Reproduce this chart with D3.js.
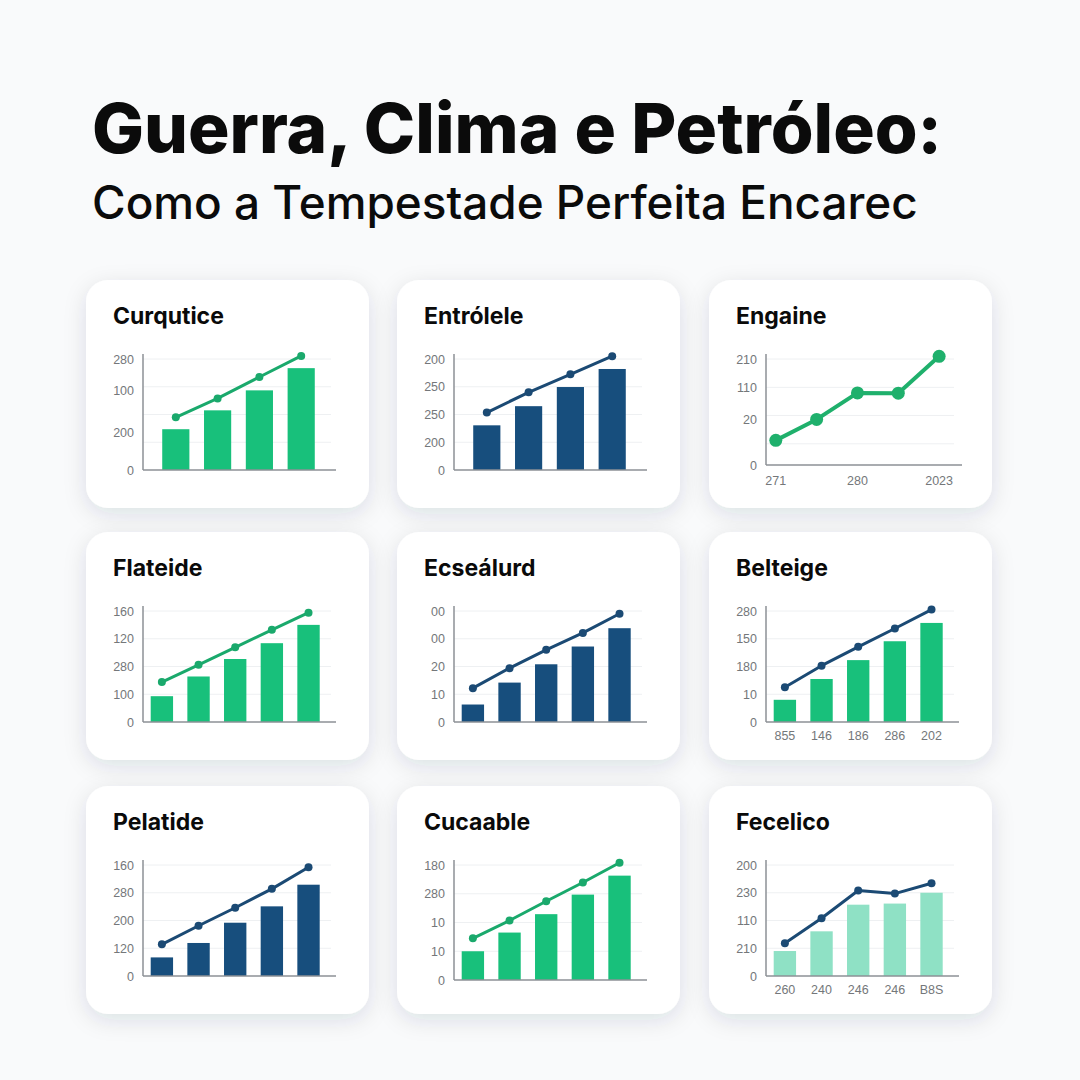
<!DOCTYPE html>
<html>
<head>
<meta charset="utf-8">
<script src="https://cdn.jsdelivr.net/npm/d3@7"></script>
<style>
  html, body { margin: 0; padding: 0; background: #f9fafb; }
  svg { display: block; }
</style>
</head>
<body>
<svg id="chart" width="1080" height="1080"></svg>
<script>
// ---------------- DATA ----------------
const mainTitle = "Guerra, Clima e Petróleo:";
const subTitle = "Como a Tempestade Perfeita Encarec";

const panelTitles = ["Curqutice", "Entrólele", "Engaine", "Flateide", "Ecseálurd", "Belteige", "Pelatide", "Cucaable", "Fecelico"];

const barValues = [
  [1.47, 2.15, 2.87, 3.67],
  [1.61, 2.30, 2.99, 3.64],
  [],
  [0.93, 1.64, 2.27, 2.84, 3.50],
  [0.63, 1.42, 2.08, 2.72, 3.38],
  [0.80, 1.55, 2.23, 2.91, 3.57],
  [0.67, 1.19, 1.92, 2.51, 3.29],
  [1.00, 1.65, 2.29, 2.97, 3.63],
  [0.90, 1.61, 2.57, 2.61, 3.00]
];

const lineValues = [
  [1.90, 2.58, 3.35, 4.11],
  [2.07, 2.80, 3.45, 4.10],
  [0.93, 1.72, 2.72, 2.71, 4.10],
  [1.44, 2.06, 2.69, 3.32, 3.94],
  [1.22, 1.94, 2.60, 3.21, 3.90],
  [1.25, 2.03, 2.71, 3.37, 4.05],
  [1.14, 1.81, 2.46, 3.14, 3.92],
  [1.45, 2.07, 2.74, 3.39, 4.08],
  [1.18, 2.08, 3.08, 2.97, 3.34]
];

const yTickLabels = [
  ["280", "100", "200", "0"],
  ["200", "250", "250", "200", "0"],
  ["210", "110", "20", "0"],
  ["160", "120", "280", "100", "0"],
  ["00", "00", "20", "10", "0"],
  ["280", "150", "180", "10", "0"],
  ["160", "280", "200", "120", "0"],
  ["180", "280", "10", "10", "0"],
  ["200", "230", "110", "210", "0"]
];
const yTickValues = [
  [4, 2.85, 1.35, 0],
  [4, 3, 2, 1, 0],
  [4, 2.91, 1.72, 0],
  [4, 3, 2, 1, 0],
  [4, 3, 2, 1, 0],
  [4, 3, 2, 1, 0],
  [4, 3, 2, 1, 0],
  [4, 3, 2, 1, 0],
  [4, 3, 2, 1, 0]
];
const gridValues = [
  [1, 2, 3, 4], [1, 2, 3, 4], [0.8, 1.87, 2.93, 4],
  [1, 2, 3, 4], [1, 2, 3, 4], [1, 2, 3, 4],
  [1, 2, 3, 4], [1, 2, 3, 4], [1, 2, 3, 4]
];
const xTickLabels = [
  null, null, ["271", "", "280", "", "2023"],
  null, null, ["855", "146", "186", "286", "202"],
  null, null, ["260", "240", "246", "246", "B8S"]
];

// ---------------- STYLES ----------------
const C = {
  green: "#18c07b", greenLine: "#1aa96c", navy: "#174e7d", navyLine: "#1b4a74",
  teal: "#8fe1c5"
};
const barColors  = [C.green, C.navy, null, C.green, C.navy, C.green, C.navy, C.green, C.teal];
const lineColors = [C.greenLine, C.navyLine, "#1fb06c", C.greenLine, C.navyLine, C.navyLine, C.navyLine, C.greenLine, C.navyLine];

// ---------------- LAYOUT ----------------
const svg = d3.select("#chart");
const cardX = [86, 397, 709], cardY = [280, 532, 786];
const cardW = 283, cardH = 228;

const defs = svg.append("defs");
const f = defs.append("filter").attr("id", "shadow").attr("x", "-25%").attr("y", "-25%").attr("width", "150%").attr("height", "160%");
f.append("feDropShadow").attr("dx", 0).attr("dy", 6).attr("stdDeviation", 11)
  .attr("flood-color", "#1e3246").attr("flood-opacity", 0.12);

svg.append("rect").attr("width", 1080).attr("height", 1080).attr("fill", "#f9fafb");

function fitText(sel, targetW) {
  const w = sel.node().getComputedTextLength();
  const fs = parseFloat(sel.attr("font-size"));
  sel.attr("font-size", fs * targetW / w);
}

const t1 = svg.append("text").attr("x", 92).attr("y", 153)
  .attr("font-family", "Inter, 'Open Sans', sans-serif").attr("font-weight", 800)
  .attr("font-size", 68).attr("fill", "#0b0b0b").text(mainTitle);
fitText(t1, 850);
const t2 = svg.append("text").attr("x", 92).attr("y", 219)
  .attr("font-family", "Inter, 'Open Sans', sans-serif").attr("font-weight", 500)
  .attr("font-size", 46).attr("fill", "#0b0b0b").text(subTitle);
fitText(t2, 826);

panelTitles.forEach((title, i) => {
  const cx = cardX[i % 3], cy = cardY[Math.floor(i / 3)];
  const g = svg.append("g").attr("transform", `translate(${cx},${cy})`);
  g.append("rect").attr("width", cardW).attr("height", cardH).attr("rx", 22)
    .attr("fill", "#ffffff").attr("filter", "url(#shadow)");

  g.append("text").attr("x", 27).attr("y", 44)
    .attr("font-family", "Inter, sans-serif").attr("font-weight", 700)
    .attr("font-size", 23).attr("fill", "#0a0a0a").text(title);

  const isLineOnly = barValues[i].length === 0;
  const left = 57, right = 250, top = 79;
  const bottom = isLineOnly ? 185 : (i === 7 ? 194 : 190);

  const y = d3.scaleLinear().domain([0, 4]).range([bottom, top]);
  const n = lineValues[i].length;
  const idx = d3.range(n);

  // grid
  g.append("g").selectAll("line").data(gridValues[i]).join("line")
    .attr("x1", left).attr("x2", right - 5)
    .attr("y1", d => y(d)).attr("y2", d => y(d))
    .attr("stroke", "#eef0f2").attr("stroke-width", 1);

  // y axis labels
  const yAxis = d3.axisLeft(y).tickValues(yTickValues[i])
    .tickFormat((d, k) => yTickLabels[i][k]).tickSize(0).tickPadding(9);
  const ya = g.append("g").attr("transform", `translate(${left},0)`).call(yAxis);
  ya.select(".domain").remove();
  ya.selectAll("text").attr("font-family", "'Liberation Sans', Arial, sans-serif")
    .attr("font-size", 12.5).attr("fill", "#74777a");

  let xPos;
  if (isLineOnly) {
    const xs = d3.scalePoint().domain(idx).range([left, right + 3]).padding(0.4).align(0.3);
    xPos = d => xs(d);
  } else {
    const xb = n === 4
      ? d3.scaleBand().domain(idx).range([left, right - 2]).paddingInner(0.35).paddingOuter(0.46)
      : d3.scaleBand().domain(idx).range([left, right - 2]).paddingInner(0.39).paddingOuter(0.3).align(0.35);
    xPos = d => xb(d) + xb.bandwidth() / 2;
    g.append("g").selectAll("rect").data(barValues[i]).join("rect")
      .attr("x", (d, k) => xb(k)).attr("width", xb.bandwidth())
      .attr("y", d => y(d)).attr("height", d => y(0) - y(d))
      .attr("fill", barColors[i]);
  }

  // axis lines
  g.append("line").attr("x1", left).attr("x2", left).attr("y1", top - 5).attr("y2", bottom)
    .attr("stroke", "#8d9196").attr("stroke-width", 1.5);
  g.append("line").attr("x1", left).attr("x2", right + (isLineOnly ? 3 : 0)).attr("y1", bottom).attr("y2", bottom)
    .attr("stroke", "#8d9196").attr("stroke-width", 1.5);

  // x labels
  if (xTickLabels[i]) {
    g.append("g").selectAll("text").data(xTickLabels[i]).join("text")
      .attr("x", (d, k) => xPos(k)).attr("y", bottom + (isLineOnly ? 20 : 18))
      .attr("text-anchor", "middle")
      .attr("font-family", "'Liberation Sans', Arial, sans-serif")
      .attr("font-size", 12.5).attr("fill", "#74777a").text(d => d);
  }

  // line
  const line = d3.line().x((d, k) => xPos(k)).y(d => y(d));
  g.append("path").datum(lineValues[i]).attr("d", line)
    .attr("fill", "none").attr("stroke", lineColors[i])
    .attr("stroke-width", isLineOnly ? 4 : 3).attr("stroke-linejoin", "round");
  g.append("g").selectAll("circle").data(lineValues[i]).join("circle")
    .attr("cx", (d, k) => xPos(k)).attr("cy", d => y(d))
    .attr("r", isLineOnly ? 6.5 : 4).attr("fill", lineColors[i]);
});
</script>
</body>
</html>
